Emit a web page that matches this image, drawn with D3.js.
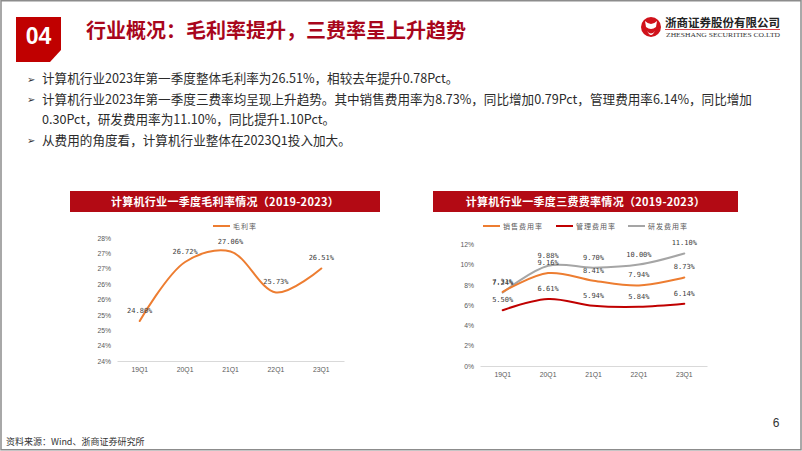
<!DOCTYPE html>
<html><head><meta charset="utf-8">
<script src="https://cdn.jsdelivr.net/npm/d3@7/dist/d3.min.js"></script>
<style>
html,body{margin:0;padding:0;background:#fff;}
svg{display:block;}
</style></head>
<body>
<svg id="c" width="802" height="451"></svg>
<script>
// ---------- data ----------
const quarters = ["19Q1", "20Q1", "21Q1", "22Q1", "23Q1"];
const grossMargin = [24.80, 26.72, 27.06, 25.73, 26.51];
const salesRate = [7.31, 9.16, 8.41, 7.94, 8.73];
const adminRate = [5.50, 6.61, 5.94, 5.84, 6.14];
const rdRate = [7.24, 9.88, 9.70, 10.00, 11.10];
const leftTickValues = [23.5, 24, 24.5, 25, 25.5, 26, 26.5, 27, 27.5];
const leftTickLabels = ["24%", "24%", "25%", "25%", "26%", "26%", "27%", "27%", "28%"];
const rightTickValues = [0, 2, 4, 6, 8, 10, 12];
const rightTickLabels = ["0%", "2%", "4%", "6%", "8%", "10%", "12%"];
const seriesNames = ["销售费用率", "管理费用率", "研发费用率"];
const leftSeriesName = "毛利率";
const pageTitle = "行业概况：毛利率提升，三费率呈上升趋势";
const sectionNo = "04";
const bullets = [
  {arrow: true, text: "计算机行业2023年第一季度整体毛利率为26.51%，相较去年提升0.78Pct。"},
  {arrow: true, text: "计算机行业2023年第一季度三费率均呈现上升趋势。其中销售费用率为8.73%，同比增加0.79Pct，管理费用率6.14%，同比增加"},
  {arrow: false, text: "0.30Pct，研发费用率为11.10%，同比提升1.10Pct。"},
  {arrow: true, text: "从费用的角度看，计算机行业整体在2023Q1投入加大。"}
];
const leftTitle = "计算机行业一季度毛利率情况（2019-2023）";
const rightTitle = "计算机行业一季度三费费率情况（2019-2023）";
const source = "资料来源：Wind、浙商证券研究所";
const pageNo = "6";

// ---------- styles ----------
const RED = "#b30a14";
const ORANGE = "#ed7d31";
const DARKRED = "#c00000";
const GRAY = "#a5a5a5";
const CJK = "'Noto Sans CJK SC','Noto Sans',sans-serif";
const MONO = "'DejaVu Sans Mono','Liberation Mono',monospace";

const svg = d3.select("#c");

// page frame
svg.append("rect").attr("x", 1).attr("y", 0.75).attr("width", 800).attr("height", 449)
  .attr("fill", "none").attr("stroke", "#8c8c8c").attr("stroke-width", 1.5);

// header box
svg.append("path").attr("d", "M16,17 L61,17 L61,50 L50,62 L16,62 Z").attr("fill", DARKRED);
svg.append("text").attr("x", 38.5).attr("y", 44).attr("text-anchor", "middle")
  .attr("font-family", "'Liberation Sans',Arial,sans-serif").attr("font-weight", "bold")
  .attr("font-size", 23).attr("fill", "#fff").text(sectionNo);
svg.append("text").attr("x", 86).attr("y", 37.5)
  .attr("font-family", CJK).attr("font-weight", "bold").attr("font-size", 20)
  .attr("fill", "#a8061c").text(pageTitle);

// logo
const logo = svg.append("g");
logo.append("circle").attr("cx", 651).attr("cy", 27).attr("r", 10).attr("fill", "#d0121b");
logo.append("path").attr("d", "M645,21 Q651,27 657,21 L656,27 Q651,31 646,27 Z").attr("fill", "#fff");
logo.append("path").attr("d", "M647,31 Q651,36 655,31 L653,34 Q651,36 649,34 Z").attr("fill", "#fff");
logo.append("text").attr("x", 665).attr("y", 27).attr("font-family", CJK).attr("font-weight", "bold")
  .attr("font-size", 11.5).attr("fill", "#222").attr("textLength", 115).text("浙商证券股份有限公司");
logo.append("line").attr("x1", 665).attr("x2", 780).attr("y1", 29.5).attr("y2", 29.5)
  .attr("stroke", "#d0121b").attr("stroke-width", 0.8);
logo.append("text").attr("x", 666).attr("y", 36.5).attr("font-family", "'Liberation Serif',serif")
  .attr("font-size", 6.5).attr("fill", "#333").attr("textLength", 114).attr("lengthAdjust", "spacingAndGlyphs")
  .text("ZHESHANG SECURITIES CO.LTD");

// bullets
const by = [83, 103.5, 124, 144.5];
bullets.forEach((b, i) => {
  if (b.arrow) {
    svg.append("text").attr("x", 27).attr("y", by[i] - 0.5).attr("font-family", "'DejaVu Sans',sans-serif")
      .attr("font-size", 10).attr("fill", "#333").text("➢");
  }
  svg.append("text").attr("x", 42).attr("y", by[i]).attr("font-family", CJK)
    .attr("font-size", 12.6).attr("fill", "#2b2b2b").text(b.text);
});

// footer
svg.append("text").attr("x", 6).attr("y", 445).attr("font-family", CJK).attr("font-size", 9)
  .attr("fill", "#333").text(source);
svg.append("text").attr("x", 776).attr("y", 427).attr("text-anchor", "middle")
  .attr("font-family", "'Liberation Sans',Arial,sans-serif").attr("font-size", 12).attr("fill", "#333").text(pageNo);

// ---------- chart helper ----------
function titleBand(x0, x1, title) {
  svg.append("rect").attr("x", x0).attr("y", 191).attr("width", x1 - x0).attr("height", 21).attr("fill", RED);
  svg.append("text").attr("x", (x0 + x1) / 2).attr("y", 205.5).attr("text-anchor", "middle")
    .attr("font-family", CJK).attr("font-weight", "bold").attr("font-size", 11).attr("fill", "#fff")
    .attr("letter-spacing", 0.3).text(title);
}

function drawAxes(g, x, y, tickValues, tickLabels, baseY, labelX) {
  const ya = d3.axisLeft(y).tickValues(tickValues).tickSize(0)
    .tickFormat((d, i) => tickLabels[i]);
  const yg = g.append("g").attr("transform", `translate(${labelX},0)`).call(ya);
  yg.select(".domain").remove();
  yg.selectAll("text").attr("font-family", "'Liberation Sans',Arial,sans-serif").attr("font-size", 6.8)
    .attr("fill", "#595959").attr("x", 0);
  const xa = d3.axisBottom(x).tickSize(0).tickPadding(6);
  const xg = g.append("g").attr("transform", `translate(0,${baseY})`).call(xa);
  xg.select(".domain").attr("stroke", "#d9d9d9").attr("stroke-width", 1);
  xg.selectAll("text").attr("font-family", "'Liberation Sans',Arial,sans-serif").attr("font-size", 6.8)
    .attr("fill", "#595959");
}

function drawSeries(g, x, y, values, color) {
  const line = d3.line().x((d, i) => x(quarters[i]) + x.bandwidth() / 2).y(d => y(d))
    .curve(d3.curveCatmullRom.alpha(0.5));
  g.append("path").datum(values).attr("d", line).attr("fill", "none")
    .attr("stroke", color).attr("stroke-width", 2).attr("stroke-linecap", "round");
}

function drawLabels(g, x, y, values) {
  g.selectAll(null).data(values).enter().append("text")
    .attr("x", (d, i) => x(quarters[i]) + x.bandwidth() / 2)
    .attr("y", d => y(d) - 8)
    .attr("text-anchor", "middle").attr("font-family", MONO).attr("font-size", 7)
    .attr("fill", "#404040").text(d => d3.format(".2f")(d) + "%");
}

function legendItem(g, x, yy, color, label) {
  g.append("line").attr("x1", x).attr("x2", x + 17).attr("y1", yy).attr("y2", yy)
    .attr("stroke", color).attr("stroke-width", 2);
  g.append("text").attr("x", x + 20).attr("y", yy + 2.5).attr("font-family", CJK).attr("font-size", 7)
    .attr("letter-spacing", 1).attr("fill", "#595959").text(label);
}

// ---------- left chart ----------
titleBand(70, 380, leftTitle);
{
  const g = svg.append("g");
  const x = d3.scaleBand().domain(quarters).range([117, 344]);
  const y = d3.scaleLinear().domain([23.5, 27.5]).range([361, 238]);
  drawAxes(g, x, y, leftTickValues, leftTickLabels, 361, 111);
  drawSeries(g, x, y, grossMargin, ORANGE);
  drawLabels(g, x, y, grossMargin);
  legendItem(g, 213, 226, ORANGE, leftSeriesName);
}

// ---------- right chart ----------
titleBand(433, 738, rightTitle);
{
  const g = svg.append("g");
  const x = d3.scaleBand().domain(quarters).range([480, 707]);
  const y = d3.scaleLinear().domain([0, 12]).range([366, 244.3]);
  drawAxes(g, x, y, rightTickValues, rightTickLabels, 366, 474);
  drawSeries(g, x, y, rdRate, GRAY);
  drawSeries(g, x, y, salesRate, ORANGE);
  drawSeries(g, x, y, adminRate, DARKRED);
  drawLabels(g, x, y, salesRate);
  drawLabels(g, x, y, adminRate);
  drawLabels(g, x, y, rdRate);
  legendItem(g, 483, 226, ORANGE, seriesNames[0]);
  legendItem(g, 556, 226, DARKRED, seriesNames[1]);
  legendItem(g, 628, 226, GRAY, seriesNames[2]);
}
</script>
</body></html>
